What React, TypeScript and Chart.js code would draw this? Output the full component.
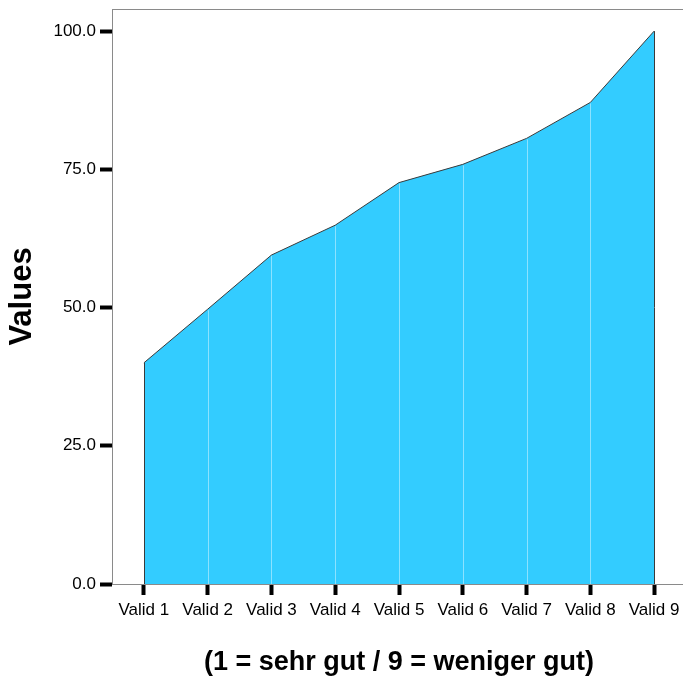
import React, { useEffect, useRef } from "react";
import { Chart, registerables } from "chart.js";

Chart.register(...registerables);

const categories = ["Valid 1", "Valid 2", "Valid 3", "Valid 4", "Valid 5", "Valid 6", "Valid 7", "Valid 8", "Valid 9"];
const values = [40.0, 49.7, 59.5, 64.9, 72.6, 75.9, 80.6, 87.1, 100.0];
const yTicks = [0, 25, 50, 75, 100];
const xTitle = "(1 = sehr gut / 9 = weniger gut)";
const yTitle = "Values";

const FONT = "'Liberation Sans', Arial, Helvetica, sans-serif";

const areaPlugin = {
  id: "areaEdges",
  afterDatasetsDraw(chart: any) {
    const meta = chart.getDatasetMeta(0);
    const { ctx, chartArea } = chart;
    const pts = meta.data;
    ctx.save();
    pts.forEach((p: any, i: number) => {
      const edge = i === 0 || i === pts.length - 1;
      ctx.beginPath();
      ctx.lineWidth = 1;
      ctx.strokeStyle = edge ? "#3a3a3a" : "rgba(150,228,255,0.9)";
      const x = Math.round(p.x) + 0.5;
      ctx.moveTo(x, p.y + (edge ? 0 : 1));
      ctx.lineTo(x, chartArea.bottom);
      ctx.stroke();
    });
    ctx.restore();
  },
  afterDraw(chart: any) {
    const { ctx, chartArea } = chart;
    ctx.save();
    ctx.beginPath();
    ctx.lineWidth = 1;
    ctx.strokeStyle = "#8a8a8a";
    ctx.moveTo(chartArea.left, chartArea.top + 0.5);
    ctx.lineTo(chartArea.right, chartArea.top + 0.5);
    ctx.stroke();
    ctx.restore();
  },
};

export default function App() {
  const ref = useRef<HTMLCanvasElement>(null);
  useEffect(() => {
    if (!ref.current) return;
    const chart = new Chart(ref.current, {
      type: "line",
      data: {
        labels: categories,
        datasets: [
          {
            data: values,
            fill: "origin",
            backgroundColor: "#33CCFF",
            borderColor: "#3a3a3a",
            borderWidth: 1,
            pointRadius: 0,
            tension: 0,
          },
        ],
      },
      options: {
        animation: false,
        responsive: false,
        maintainAspectRatio: false,
        layout: { padding: { left: 0, top: 9, right: 4, bottom: 0 } },
        plugins: { legend: { display: false }, tooltip: { enabled: false } },
        scales: {
          x: {
            type: "category",
            offset: true,
            z: 1,
            grid: {
              offset: false,
              drawOnChartArea: false,
              drawTicks: true,
              tickLength: 11,
              tickWidth: 4,
              tickColor: "#000",
            },
            border: { display: true, color: "#8a8a8a", width: 1 },
            ticks: {
              color: "#000",
              padding: 5,
              maxRotation: 0,
              autoSkip: false,
              font: { family: FONT, size: 17 },
            },
            title: {
              display: true,
              text: xTitle,
              color: "#000",
              padding: { top: 0, bottom: 0 },
              font: { family: FONT, size: 27, weight: "bold", lineHeight: 1.1 },
            },
            afterFit(scale: any) {
              scale.height = 93;
              scale.paddingLeft = 0;
              scale.paddingRight = 0;
            },
          },
          y: {
            min: 0,
            max: 104,
            grid: {
              drawOnChartArea: false,
              drawTicks: true,
              tickLength: 12,
              tickWidth: 4,
              tickColor: "#000",
            },
            border: { display: true, color: "#8a8a8a", width: 1 },
            afterBuildTicks(scale: any) {
              scale.ticks = yTicks.map((v) => ({ value: v }));
            },
            ticks: {
              color: "#000",
              padding: 4,
              font: { family: FONT, size: 17, lineHeight: 1 },
              callback: (v: any) => Number(v).toFixed(1),
            },
            title: {
              display: true,
              text: yTitle,
              color: "#000",
              padding: { top: 4, bottom: 0 },
              font: { family: FONT, size: 31, weight: "bold", lineHeight: 1.2 },
            },
            afterFit(scale: any) {
              scale.width = 112;
              scale.paddingTop = 0;
              scale.paddingBottom = 0;
            },
          },
        },
      },
      plugins: [areaPlugin],
    } as any);
    return () => chart.destroy();
  }, []);
  return (
    <div style={{ position: "absolute", left: 0, top: 0, width: 683, height: 677, overflow: "hidden", background: "#fff" }}>
      <canvas ref={ref} width={690} height={677} style={{ display: "block", width: 690, height: 677 }} />
    </div>
  );
}
